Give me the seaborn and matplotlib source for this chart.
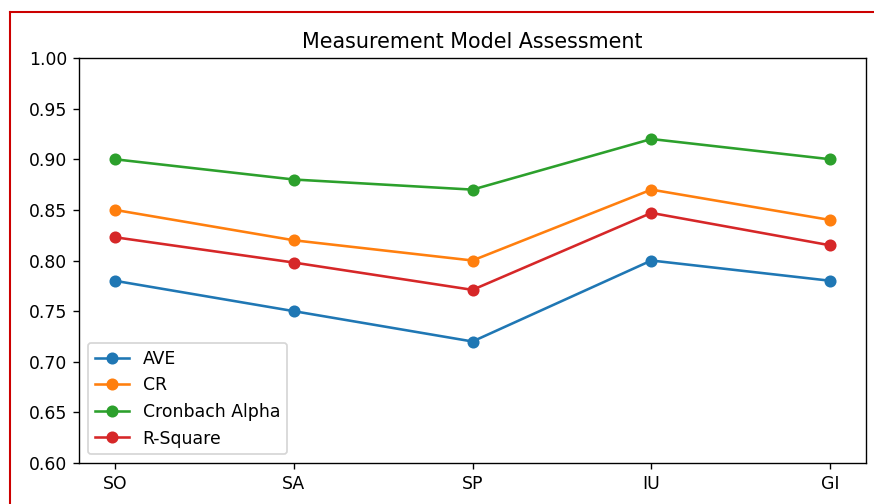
import numpy as np
import pandas as pd
import matplotlib
matplotlib.use("Agg")
import matplotlib.pyplot as plt
from matplotlib.lines import Line2D
import seaborn as sns

# data
constructs = ["SO", "SA", "SP", "IU", "GI"]
ave = [0.78, 0.75, 0.72, 0.80, 0.78]
cr = [0.85, 0.82, 0.80, 0.87, 0.84]
cronbach = [0.90, 0.88, 0.87, 0.92, 0.90]
r_square = [0.823, 0.798, 0.771, 0.847, 0.815]

series = {"AVE": ave, "CR": cr, "Cronbach Alpha": cronbach, "R-Square": r_square}
colors = ["#1f77b4", "#ff7f0e", "#2ca02c", "#d62728"]

DPI = 124
fig = plt.figure(figsize=(874/DPI, 504/DPI), dpi=DPI)
ax = fig.add_axes([79/874, 41/504, 787/874, 405/504])

for (name, vals), c in zip(series.items(), colors):
    df = pd.DataFrame({"construct": constructs, "value": vals})
    sns.lineplot(data=df, x="construct", y="value", ax=ax, color=c, marker="o",
                 markersize=6, markeredgecolor=c, markeredgewidth=1,
                 linewidth=1.5, label=name)

ax.set_ylim(0.6, 1.0)
ax.set_yticks(np.arange(0.60, 1.001, 0.05))
ax.set_xlabel("")
ax.set_ylabel("")
ax.set_title("Measurement Model Assessment")
ax.legend(loc="lower left")

# red frame of the screenshot
fig.add_artist(Line2D([9.5/874, 1], [1 - 11.5/504, 1 - 11.5/504], color="#cc0000", linewidth=1.2))
fig.add_artist(Line2D([9.5/874, 9.5/874], [0, 1 - 11.5/504], color="#cc0000", linewidth=1.2))

fig.savefig("out.png", dpi=DPI)
